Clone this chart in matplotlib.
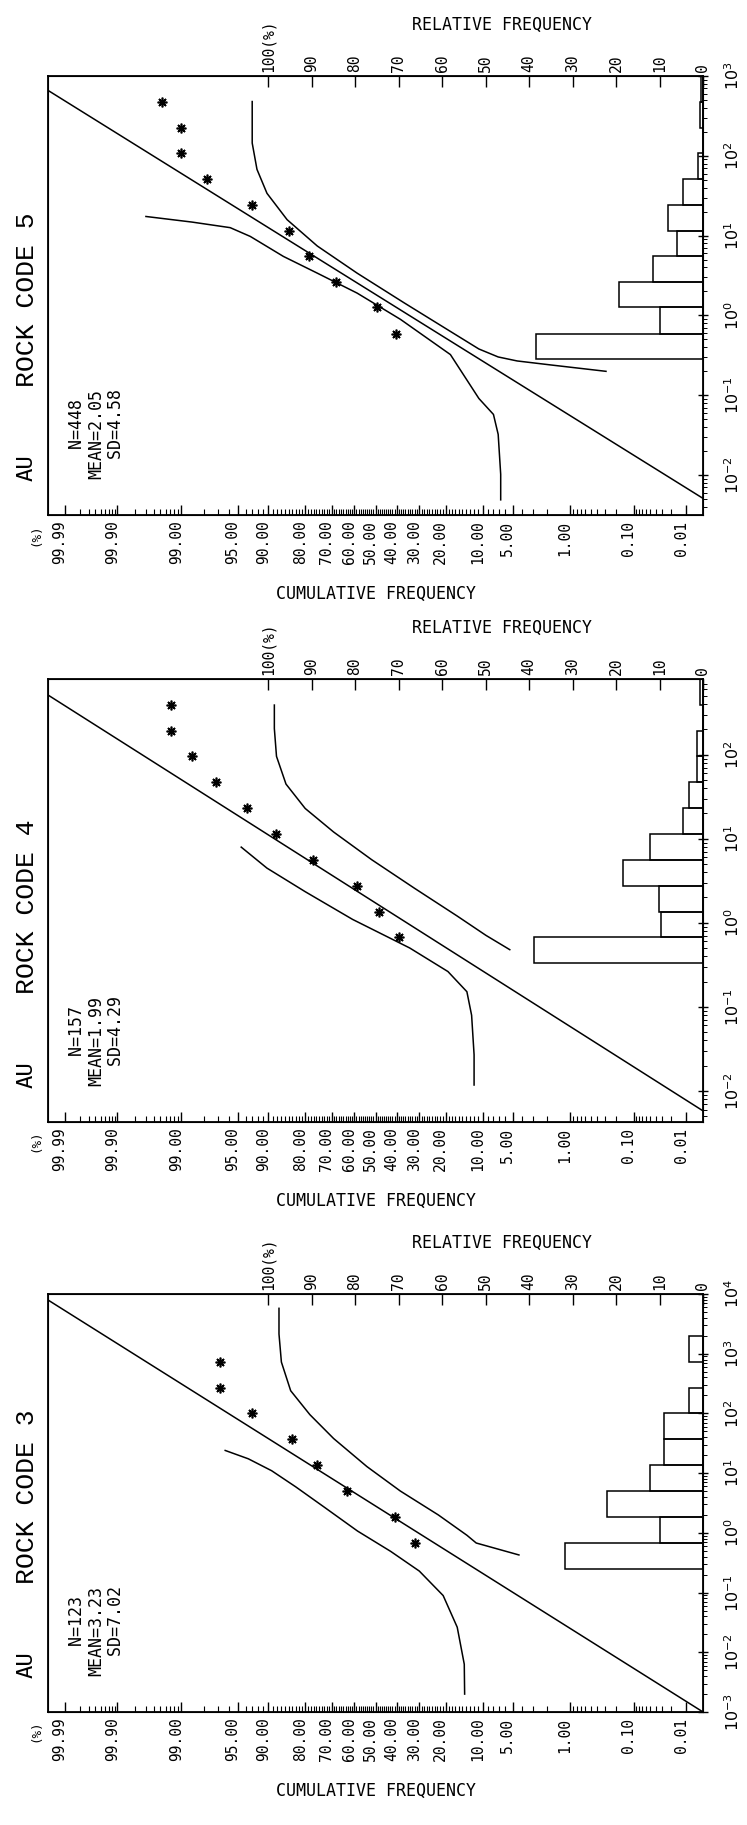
import numpy as np
import matplotlib.pyplot as plt
from matplotlib.transforms import ScaledTranslation
from statistics import NormalDist

W, H = 747, 1825
ZMAX = 3.92          # probit range of the cumulative axis
REL_LEFT = 150.6     # relative frequency value at the left frame

# ---------- AU, rock code 5 ----------
p5_box = (48, 76, 703, 515)
p5_lrange = (-2.5, 3.0)
p5_stats = ['N=448', 'MEAN=2.05', 'SD=4.58']
p5_edges = [-0.55, -0.23, 0.10, 0.42, 0.74, 1.06, 1.39, 1.71, 2.03, 2.35, 2.68, 3.00]
p5_pct = [38.4, 9.8, 19.4, 11.4, 6.0, 8.0, 4.7, 1.1, 0.0, 0.7, 0.4]
p5_cum = [40.1, 49.2, 68.0, 78.8, 85.0, 93.1, 97.8, 99.0, 99.0, 99.47]
p5_fit = (0.264, 0.652)
p5_a_log = [2.68, 2.16, 1.83, 1.53, 1.20, 0.87, 0.53, 0.16, -0.20, -0.42, -0.52, -0.57, -0.62, -0.70]
p5_a_cum = [93.0, 93.0, 92.2, 90.3, 85.5, 75.7, 58.7, 36.7, 18.5, 10.8, 7.1, 4.5, 1.8, 0.29]
p5_b_log = [1.24, 1.17, 1.10, 0.99, 0.74, 0.53, 0.28, -0.05, -0.49, -1.04, -1.24, -1.49, -1.99, -2.31]
p5_b_cum = [99.7, 98.6, 95.9, 93.3, 86.5, 75.7, 58.7, 38.2, 18.5, 10.8, 7.9, 7.1, 6.7, 6.7]

# ---------- AU, rock code 4 ----------
p4_box = (48, 679, 703, 1122)
p4_lrange = (-2.37, 2.9)
p4_stats = ['N=157', 'MEAN=1.99', 'SD=4.29']
p4_edges = [-0.48, -0.17, 0.13, 0.44, 0.75, 1.06, 1.36, 1.67, 1.98, 2.28, 2.59, 2.90]
p4_pct = [38.9, 9.6, 10.2, 18.5, 12.1, 4.5, 3.2, 1.3, 1.3, 0.0, 0.6]
p4_cum = [38.8, 48.4, 58.6, 77.3, 88.4, 93.8, 97.2, 98.6, 99.29, 99.29]
p4_fit = (0.236, 0.631)
p4_a_log = [2.59, 2.31, 1.98, 1.65, 1.36, 1.08, 0.75, 0.41, 0.08, -0.15, -0.32]
p4_a_cum = [88.7, 88.7, 88.2, 85.8, 80.0, 69.2, 51.8, 32.0, 16.4, 9.3, 5.4]
p4_b_log = [0.90, 0.65, 0.37, 0.04, -0.30, -0.58, -0.82, -1.10, -1.57, -1.93]
p4_b_cum = [94.6, 90.3, 80.0, 60.8, 34.1, 19.3, 13.7, 12.5, 11.9, 11.9]

# ---------- AU, rock code 3 ----------
p3_box = (48, 1294, 703, 1712)
p3_lrange = (-3.0, 4.0)
p3_stats = ['N=123', 'MEAN=3.23', 'SD=7.02']
p3_edges = [-0.606, -0.171, 0.263, 0.697, 1.131, 1.566, 2.0, 2.434, 2.869, 3.303]
p3_pct = [31.7, 9.8, 22.0, 12.2, 8.9, 8.9, 3.3, 0.0, 3.3]
p3_cum = [31.9, 40.9, 63.5, 75.8, 84.0, 93.1, 96.9, 96.9]
p3_fit = (0.45, 0.88)
p3_a_log = [3.76, 3.33, 2.86, 2.38, 1.98, 1.58, 1.11, 0.70, 0.30, -0.04, -0.17, -0.37]
p3_a_cum = [87.6, 87.6, 87.0, 84.5, 78.4, 69.2, 54.1, 38.3, 22.6, 13.7, 11.4, 4.3]
p3_b_log = [1.38, 1.24, 1.04, 0.77, 0.43, 0.03, -0.31, -0.64, -1.05, -1.58, -2.20, -2.70]
p3_b_cum = [96.4, 93.6, 89.3, 83.0, 73.0, 58.5, 42.8, 30.0, 20.9, 16.4, 14.4, 14.3]

cum_ticks = [99.99, 99.9, 99, 95, 90, 80, 70, 60, 50, 40, 30, 20, 10, 5, 1, 0.1, 0.01]
rel_ticks = [0, 10, 20, 30, 40, 50, 60, 70, 80, 90, 100]

nd = NormalDist()


def probit(p):
    return np.array([nd.inv_cdf(v / 100.0) for v in np.atleast_1d(p)])


def px_rect(x0, y0, x1, y1):
    return [x0 / W, 1 - y1 / H, (x1 - x0) / W, (y1 - y0) / H]


MONO = 'DejaVu Sans Mono'
lw = 1.1

# minor tick positions on the probability axis
minor_p = ([0.01 * k for k in range(1, 10)] + [0.1 * k for k in range(1, 10)] +
           list(range(1, 100)) + [99 + 0.1 * k for k in range(1, 10)] +
           [99.9 + 0.01 * k for k in range(1, 10)])
minor_p = np.round(minor_p, 3)

fig = plt.figure(figsize=(W / 100, H / 100), dpi=100)


def panel(box, lrange, code, stats, edges, pct, cum, fit, a_log, a_cum, b_log, b_cum):
    x0, y0, x1, y1 = box
    ax = fig.add_axes(px_rect(*box))
    ax.set_yscale('log')
    for s in ax.spines.values():
        s.set_linewidth(1.3)

    # histogram (relative frequency), on its own horizontal scale
    ax2 = ax.twiny()
    e = 10 ** np.array(edges)
    ax2.barh(e[:-1], pct, height=e[1:] - e[:-1], align='edge',
             fill=False, edgecolor='black', linewidth=lw)
    ax2.set_xticks(rel_ticks)
    ax2.set_xticklabels([str(v) for v in rel_ticks[:-1]] + ['100(%)'],
                        rotation=90, fontsize=10.5, family=MONO)
    ax2.tick_params(axis='x', direction='in', length=8, width=1, pad=3)
    ax2.set_xlim(REL_LEFT, 0)

    # fitted line
    zz = np.array([ZMAX + 0.5, -ZMAX - 0.5])
    ax.plot(zz, 10 ** (fit[0] + fit[1] * zz), color='black', lw=lw)
    # bands
    ax.plot(probit(a_cum), 10 ** np.array(a_log), color='black', lw=lw)
    ax.plot(probit(b_cum), 10 ** np.array(b_log), color='black', lw=lw)
    # cumulative points at upper bin edges
    ax.plot(probit(cum), 10 ** np.array(edges[1:len(cum) + 1]), ls='none',
            marker=(8, 2, 0), ms=7, mew=1.2, color='black')

    # cumulative axis (bottom)
    ax.set_xticks(probit(cum_ticks))
    ax.set_xticklabels([f'{v:.2f}' for v in cum_ticks], rotation=90,
                       fontsize=10.5, family=MONO)
    ax.set_xticks(probit(minor_p), minor=True)
    ax.tick_params(axis='x', which='major', direction='in', length=7, width=1, pad=4)
    ax.tick_params(axis='x', which='minor', direction='in', length=4, width=0.8)
    ax.set_xlim(ZMAX, -ZMAX)
    shift = ScaledTranslation(-0.05, 0, fig.dpi_scale_trans)
    for lab in ax.get_xticklabels():
        lab.set_transform(lab.get_transform() + shift)

    # value axis (right)
    ax.yaxis.tick_right()
    lo, hi = int(np.ceil(lrange[0])), int(np.floor(lrange[1]))
    dec = list(range(lo, hi + 1))
    ax.set_yticks([10.0 ** k for k in dec])
    ax.set_yticklabels([f'$\\mathregular{{10^{{{k}}}}}$' for k in dec],
                       rotation=90, va='center', fontsize=11.5)
    ax.tick_params(axis='y', which='major', direction='inout', length=7, width=1, pad=11)
    ax.tick_params(axis='y', which='minor', direction='out', length=3, width=0.7)
    ax.set_ylim(10 ** lrange[0], 10 ** lrange[1])

    # texts
    fig.text((x0 - 6) / W, 1 - (y1 + 8) / H, '(%)', rotation=90, ha='right',
             va='top', fontsize=9, family=MONO)
    fig.text(((x0 + x1) / 2) / W, 1 - (y1 + 79) / H, 'CUMULATIVE FREQUENCY',
             ha='center', va='center', fontsize=12, family=MONO)
    fig.text(((x0 + x1) / 2 + 126) / W, 1 - (y0 - 51) / H, 'RELATIVE FREQUENCY',
             ha='center', va='center', fontsize=12, family=MONO)
    fig.text(27 / W, 1 - (y1 - 47) / H, 'AU', rotation=90, ha='center',
             va='center', fontsize=16, family=MONO)
    fig.text(27 / W, 1 - (y1 - 215) / H, 'ROCK CODE ' + code, rotation=90,
             ha='center', va='center', fontsize=19, family='Liberation Mono')
    lines = ['   ' + stats[0], stats[1], '  ' + stats[2]]
    fig.text(68 / W, 1 - (y1 - 36) / H, '\n'.join(lines), rotation=90,
             ha='left', va='bottom', fontsize=12, family=MONO,
             multialignment='left', linespacing=1.1)
    return ax


panel(p5_box, p5_lrange, '5', p5_stats, p5_edges, p5_pct, p5_cum, p5_fit,
      p5_a_log, p5_a_cum, p5_b_log, p5_b_cum)
panel(p4_box, p4_lrange, '4', p4_stats, p4_edges, p4_pct, p4_cum, p4_fit,
      p4_a_log, p4_a_cum, p4_b_log, p4_b_cum)
panel(p3_box, p3_lrange, '3', p3_stats, p3_edges, p3_pct, p3_cum, p3_fit,
      p3_a_log, p3_a_cum, p3_b_log, p3_b_cum)

fig.savefig('out.png', dpi=100)
